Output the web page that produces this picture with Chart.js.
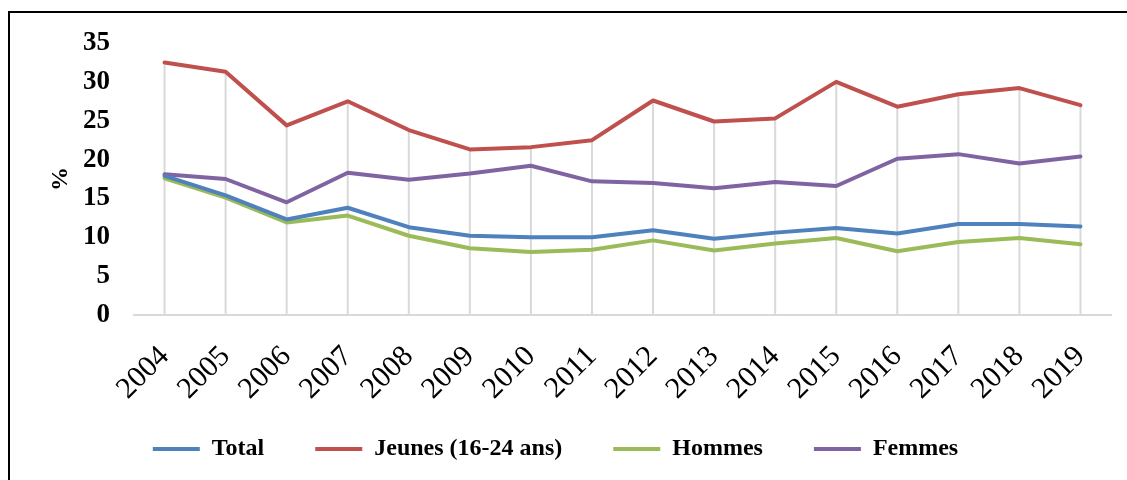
<!DOCTYPE html>
<html><head><meta charset="utf-8">
<script src="https://cdn.jsdelivr.net/npm/chart.js@4/dist/chart.umd.min.js"></script>
<style>
html,body{margin:0;padding:0;background:#fff;overflow:hidden;}
#frame{position:absolute;left:8px;top:11px;width:1200px;height:600px;border:2px solid #000;box-sizing:border-box;}
#wrap{position:absolute;left:0;top:0;width:1127px;height:480px;}
</style></head>
<body>
<div id="frame"></div>
<div id="wrap"><canvas id="c" width="1127" height="480"></canvas></div>
<script>
const years = ['2004','2005','2006','2007','2008','2009','2010','2011','2012','2013','2014','2015','2016','2017','2018','2019'];
const total   = [17.9,15.4,12.3,13.8,11.3,10.2,10.0,10.0,10.9,9.8,10.6,11.2,10.5,11.7,11.7,11.4];
const jeunes  = [32.5,31.3,24.4,27.5,23.8,21.3,21.6,22.5,27.6,24.9,25.3,30.0,26.8,28.4,29.2,27.0];
const hommes  = [17.6,15.1,11.9,12.8,10.2,8.6,8.1,8.4,9.6,8.3,9.2,9.9,8.2,9.4,9.9,9.1];
const femmes  = [18.1,17.5,14.5,18.3,17.4,18.2,19.2,17.2,17.0,16.3,17.1,16.6,20.1,20.7,19.5,20.4];
const yTicks = [0,5,10,15,20,25,30,35];

const dropLines = {
  id:'dropLines',
  beforeDatasetsDraw(chart){
    const ctx = chart.ctx, ys = chart.scales.y;
    ctx.save();
    ctx.strokeStyle = '#d9d9d9'; ctx.lineWidth = 2;
    for (let i = 0; i < chart.data.labels.length; i++) {
      let minY = Infinity, x = null;
      chart.data.datasets.forEach((ds, di) => {
        if (!chart.isDatasetVisible(di)) return;
        const p = chart.getDatasetMeta(di).data[i];
        if (p && p.y < minY) { minY = p.y; x = p.x; }
      });
      if (x === null) continue;
      ctx.beginPath(); ctx.moveTo(x, minY); ctx.lineTo(x, ys.getPixelForValue(0)); ctx.stroke();
    }
    ctx.restore();
  }
};

const mk = (label, data, color) => ({label, data, borderColor: color, backgroundColor: color,
  borderWidth: 4, pointRadius: 0, pointHoverRadius: 0, tension: 0, borderJoinStyle: 'round', borderCapStyle: 'round'});

new Chart(document.getElementById('c'), {
  type: 'line',
  data: {
    labels: years,
    datasets: [
      mk('Total', total, '#4F81BD'),
      mk('Jeunes (16-24 ans)', jeunes, '#C0504D'),
      mk('Hommes', hommes, '#9BBB59'),
      mk('Femmes', femmes, '#8064A2')
    ]
  },
  options: {
    responsive: false,
    animation: false,
    devicePixelRatio: 1,
    layout: { padding: { left: 0, right: 16, top: 43, bottom: 9 } },
    scales: {
      x: {
        offset: true,
        grid: { display: false, offset: false },
        border: { display: true, color: '#d9d9d9', width: 2 },
        ticks: { color: '#000', font: { family: 'Liberation Serif', size: 30 }, maxRotation: 45, minRotation: 45, padding: 16, autoSkip: false },
        afterFit: s => { s.height = 93; }
      },
      y: {
        min: 0, max: 35,
        afterBuildTicks: s => { s.ticks = yTicks.map(v => ({value: v})); },
        grid: { display: false, drawTicks: false },
        border: { display: false },
        ticks: { color: '#000', font: { family: 'Liberation Serif', size: 27, weight: 'bold' }, padding: 24 },
        title: { display: true, text: '%', color: '#000', font: { family: 'Liberation Serif', size: 24, weight: 'bold' }, padding: { top: 46, bottom: 0 } },
        afterFit: s => { s.width = 134; }
      }
    },
    plugins: {
      legend: {
        position: 'bottom',
        title: { display: true, text: '', font: { size: 1, lineHeight: 1 }, padding: { top: 0, bottom: -23 } },
        labels: {
          color: '#000',
          font: { family: 'Liberation Serif', size: 24, weight: 'bold' },
          boxWidth: 47, boxHeight: 4, padding: 51,
          generateLabels: chart => chart.data.datasets.map((ds, i) => ({
            text: ds.label, fillStyle: ds.borderColor, strokeStyle: ds.borderColor, lineWidth: 0,
            hidden: !chart.isDatasetVisible(i), datasetIndex: i, fontColor: '#000'
          }))
        }
      },
      tooltip: { enabled: false }
    }
  },
  plugins: [dropLines]
});
</script>
</body></html>
